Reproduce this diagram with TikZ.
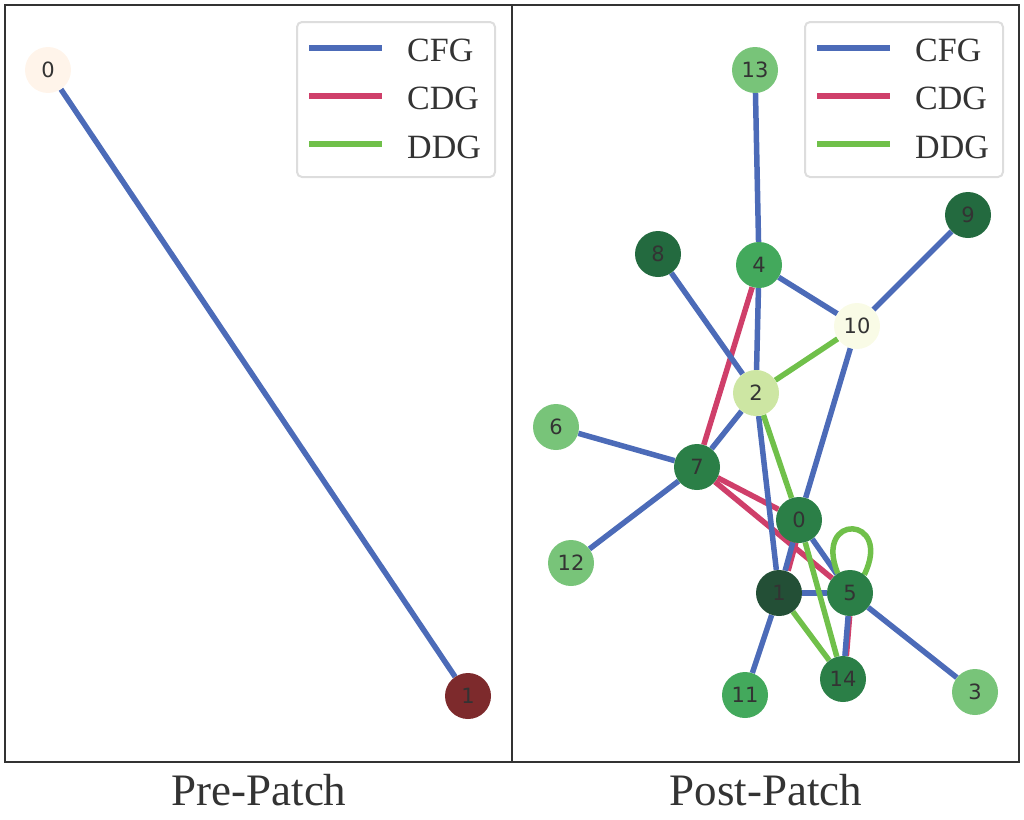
\documentclass[tikz,border=0pt]{standalone}
\usepackage{fontspec}
\setmainfont{Liberation Serif}
\setsansfont{DejaVu Sans}
\usetikzlibrary{backgrounds}

\definecolor{cfgblue}{HTML}{4C6BB8}
\definecolor{cdgred}{HTML}{CF3F6A}
\definecolor{ddggreen}{HTML}{70C04A}
\definecolor{labelgray}{HTML}{333333}
\definecolor{framegray}{HTML}{333333}
\definecolor{legendgray}{HTML}{DDDDDD}
\definecolor{peach}{HTML}{FFF4EA}
\definecolor{maroon}{HTML}{7D2A2C}
\definecolor{gpale}{HTML}{F9FBE6}
\definecolor{glime}{HTML}{CDE6A3}
\definecolor{glight}{HTML}{78C479}
\definecolor{gmed}{HTML}{43A95C}
\definecolor{gdeep}{HTML}{2B7F47}
\definecolor{gdark}{HTML}{236A3F}
\definecolor{gblack}{HTML}{234F36}

\begin{document}
\begin{tikzpicture}[x=1pt,y=-1pt,
    vertex/.style={circle,minimum size=46pt,inner sep=0pt,text=labelgray,
        font=\sffamily\fontsize{21}{25}\selectfont},
    cfg/.style={draw=cfgblue,line width=5.5pt},
    cdg/.style={draw=cdgred,line width=5.5pt},
    ddg/.style={draw=ddggreen,line width=5.5pt},
    frame/.style={draw=framegray,line width=2pt},
    legbox/.style={draw=legendgray,line width=2pt,fill=white,rounded corners=5pt},
    legtext/.style={anchor=west,inner sep=0pt,text=labelgray,font=\fontsize{34}{40}\selectfont},
    caption/.style={anchor=base,inner sep=0pt,text=labelgray,font=\fontsize{45}{50}\selectfont}]
    \useasboundingbox (0,0) rectangle (1024,819);

    % pre-patch graph
    \node[vertex,fill=peach] (pre0) at (48,70) {0};
    \node[vertex,fill=maroon] (pre1) at (468,696) {1};

    % post-patch graph
    \foreach \n/\x/\y/\c in {13/755/70/glight, 9/968/215/gdark, 8/658/254/gdark,
        4/759/265/gmed, 10/857/326/gpale, 2/756/393/glime, 6/556/427/glight,
        7/697/467/gdeep, 0/799/520/gdeep, 12/571/563/glight, 1/779/593/gblack,
        5/850/593/gdeep, 14/843/679/gdeep, 11/745/695/gmed, 3/975/692/glight}
        \node[vertex,fill=\c] (n\n) at (\x,\y) {\n};

    \begin{pgfonlayer}{background}
        \draw[cfg] (pre0) -- (pre1);

        % CDG
        \draw[cdg] (n4) -- (n7);
        \draw[cdg] (n7) -- (n0);
        \draw[cdg] (n7) -- (n5);
        \draw[cdg,transform canvas={xshift=3pt}] (n0) -- (n1);
        \draw[cdg,transform canvas={xshift=1.5pt}] (n5) -- (n14);

        % CFG
        \foreach \a/\b in {13/4, 4/2, 4/10, 10/9, 8/2, 2/7, 6/7, 7/12, 10/0,
            2/1, 0/1, 0/5, 1/5, 5/3, 1/11, 5/14}
            \draw[cfg] (n\a) -- (n\b);

        % DDG
        \draw[ddg] (n2) -- (n10);
        \draw[ddg] (n2) -- (n0);
        \draw[ddg] (n0) -- (n14);
        \draw[ddg] (n1) -- (n14);
        \draw[ddg] (n5.122) .. controls +(-112:66) and +(-64:66) .. (n5.52);
    \end{pgfonlayer}

    % panels
    \draw[frame] (5,5) rectangle (512,762);
    \draw[frame] (512,5) rectangle (1019,762);

    % legends
    \foreach \ox in {0,508} {
        \draw[legbox] (297+\ox,22) rectangle (495+\ox,177);
        \draw[cfg] (309+\ox,48) -- (382+\ox,48);
        \draw[cdg] (309+\ox,96) -- (382+\ox,96);
        \draw[ddg] (309+\ox,144) -- (382+\ox,144);
        \node[legtext] at (407+\ox,50) {CFG};
        \node[legtext] at (407+\ox,98) {CDG};
        \node[legtext] at (407+\ox,147) {DDG};
    }

    \node[caption] (prelabel) at (259,805) {Pre-Patch};
    \node[caption] (postlabel) at (766,805) {Post-Patch};
\end{tikzpicture}
\end{document}
